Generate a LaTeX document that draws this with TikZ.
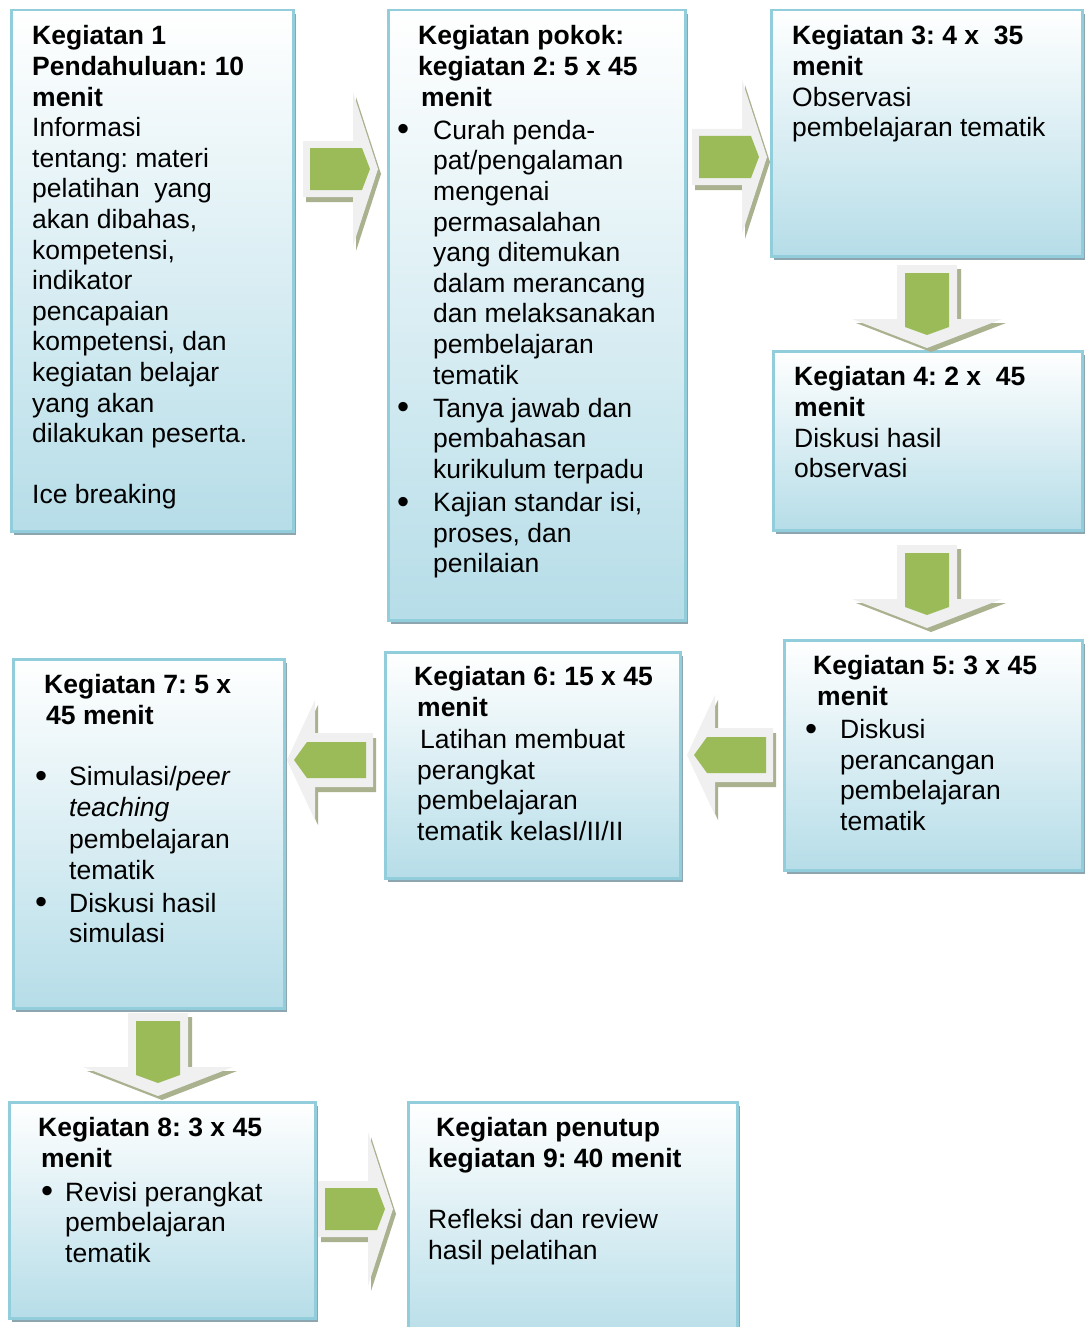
\documentclass[tikz,border=0pt]{standalone}
\usepackage{fontspec}
\setmainfont{Liberation Sans}
\frenchspacing
\definecolor{boxline}{HTML}{92CDDC}
\definecolor{boxbot}{HTML}{B6DDE8}
\definecolor{boxshadow}{HTML}{8CA5AE}
\definecolor{arrgrey}{HTML}{F0F0F0}
\definecolor{arrshadow}{HTML}{A9B18F}
\definecolor{arrgreen}{HTML}{9BBB59}
\tikzset{
  flowbox/.style={draw=boxline, line width=2.5pt, top color=white, bottom color=boxbot, inner sep=0pt, anchor=north west},
  boxtext/.style={anchor=north west, inner sep=0pt, align=left, font=\fontsize{26.5}{30.6}\selectfont\frenchspacing, text=black},
  arrbody/.style={fill=arrgrey},
  arrshade/.style={fill=arrshadow},
  arrcore/.style={fill=arrgreen},
}
\newcommand\mkbox[5]{%
  \fill[boxshadow] ({#2+4},{#3+5}) rectangle ({#4+4},{#5+5});
  \node[flowbox, minimum width={(#4-#2)*1pt}, minimum height={(#5-#3)*1pt}] (#1) at (#2,#3) {};
}
\newcommand\rarrow[3]{%
  \coordinate (#1) at (#2,#3);
  \begin{scope}[shift={(#1)}]
    \path[arrshade, shift={(3,5)}] (-37,-28)--(13,-28)--(13,-77)--(38,0)--(13,77)--(13,28)--(-37,28)--cycle;
    \path[arrbody] (-37,-28)--(13,-28)--(13,-77)--(38,0)--(13,77)--(13,28)--(-37,28)--cycle;
    \path[arrcore] (-30,-21)--(22,-21)--(30,0)--(22,21)--(-30,21)--cycle;
  \end{scope}}
\newcommand\larrow[3]{%
  \coordinate (#1) at (#2,#3);
  \begin{scope}[shift={(#1)}]
    \path[arrshade, shift={(3,5)}] (-43,0)--(-15,-60)--(-15,-27)--(43,-27)--(43,27)--(-15,27)--(-15,60)--cycle;
    \path[arrbody] (-43,0)--(-15,-60)--(-15,-27)--(43,-27)--(43,27)--(-15,27)--(-15,60)--cycle;
    \path[arrcore] (-36,0)--(-23,-18)--(36,-18)--(36,18)--(-23,18)--cycle;
  \end{scope}}
\newcommand\darrow[3]{%
  \coordinate (#1) at (#2,#3);
  \begin{scope}[shift={(#1)}]
    \path[arrshade, shift={(4,4)}] (-30,0)--(30,0)--(30,54)--(75,54)--(0,83)--(-75,54)--(-30,54)--cycle;
    \path[arrbody] (-30,0)--(30,0)--(30,54)--(75,54)--(0,83)--(-75,54)--(-30,54)--cycle;
    \path[arrcore] (-22,8)--(22,8)--(22,62)--(0,70)--(-22,62)--cycle;
  \end{scope}}
\newcommand\bul[2]{\makebox[#2pt][l]{\hspace*{#1pt}\raisebox{-1.6pt}{\scalebox{1.3}{•}}}}
\begin{document}
\begin{tikzpicture}[x=1pt,y=-1pt]
\useasboundingbox (0,0) rectangle (1084,1327);
\fill[white] (0,0) rectangle (1084,1327);

% boxes
\mkbox{b1}{10}{9}{292}{530}
\mkbox{b2}{387}{9}{684}{619}
\mkbox{b3}{770}{9}{1081}{255}
\mkbox{b4}{772}{350}{1081}{529}
\mkbox{b5}{783}{639}{1081}{869}
\mkbox{b6}{384}{651}{679}{877}
\mkbox{b7}{12}{658}{283}{1007}
\mkbox{b8}{8}{1101}{314}{1317}
\mkbox{b9}{407}{1101}{736}{1345}

% texts
\node[boxtext] (t1) at (32,25.5) {%
\textbf{Kegiatan 1}\\
\textbf{Pendahuluan: 10}\\
\textbf{menit}\\
Informasi\\
tentang: materi\\
pelatihan\ \ yang\\
akan dibahas,\\
kompetensi,\\
indikator\\
pencapaian\\
kompetensi, dan\\
kegiatan belajar\\
yang akan\\
dilakukan peserta.\\[30.6pt]
Ice breaking};

\node[boxtext] (t2) at (395,25.5) {%
\hspace*{23pt}\textbf{Kegiatan pokok:}\\
\hspace*{23pt}\textbf{kegiatan 2: 5 x 45}\\
\hspace*{26pt}\textbf{menit}\\[2.5pt]
\bul{2}{38}Curah penda-\\
\hspace*{38pt}pat/pengalaman\\
\hspace*{38pt}mengenai\\
\hspace*{38pt}permasalahan\\
\hspace*{38pt}yang ditemukan\\
\hspace*{38pt}dalam merancang\\
\hspace*{38pt}dan melaksanakan\\
\hspace*{38pt}pembelajaran\\
\hspace*{38pt}tematik\\[2.5pt]
\bul{2}{38}Tanya jawab dan\\
\hspace*{38pt}pembahasan\\
\hspace*{38pt}kurikulum terpadu\\[2.5pt]
\bul{2}{38}Kajian standar isi,\\
\hspace*{38pt}proses, dan\\
\hspace*{38pt}penilaian};

\node[boxtext] (t3) at (792,25.5) {%
\textbf{Kegiatan 3: 4 x\ \ 35}\\
\textbf{menit}\\
Observasi\\
pembelajaran tematik};

\node[boxtext] (t4) at (794,366.5) {%
\textbf{Kegiatan 4: 2 x\ \ 45}\\
\textbf{menit}\\
Diskusi hasil\\
observasi};

\node[boxtext] (t5) at (804,655.5) {%
\hspace*{9pt}\textbf{Kegiatan 5: 3 x 45}\\
\hspace*{13pt}\textbf{menit}\\[2.5pt]
\bul{1}{36}Diskusi\\
\hspace*{36pt}perancangan\\
\hspace*{36pt}pembelajaran\\
\hspace*{36pt}tematik};

\node[boxtext] (t6) at (414,666.5) {%
\textbf{Kegiatan 6: 15 x 45}\\
\hspace*{3pt}\textbf{menit}\\[1.5pt]
\hspace*{6pt}Latihan membuat\\
\hspace*{3pt}perangkat\\
\hspace*{3pt}pembelajaran\\
\hspace*{3pt}tematik kelasI/II/II};

\node[boxtext] (t7) at (34,674.5) {%
\hspace*{10pt}\textbf{Kegiatan 7: 5 x}\\
\hspace*{12pt}\textbf{45 menit}\\[30.6pt]
\bul{1}{35}Simulasi/\textit{peer}\\
\hspace*{35pt}\textit{teaching}\\[1.5pt]
\hspace*{35pt}pembelajaran\\
\hspace*{35pt}tematik\\[2.5pt]
\bul{1}{35}Diskusi hasil\\
\hspace*{35pt}simulasi};

\node[boxtext] (t8) at (38,1117.5) {%
\textbf{Kegiatan 8: 3 x 45}\\
\hspace*{3pt}\textbf{menit}\\[3pt]
\bul{3}{27}Revisi perangkat\\
\hspace*{27pt}pembelajaran\\
\hspace*{27pt}tematik};

\node[boxtext] (t9) at (428,1117.5) {%
\hspace*{8pt}\textbf{Kegiatan penutup}\\
\textbf{kegiatan 9: 40 menit}\\[30.6pt]
Refleksi dan review\\
hasil pelatihan};

% block arrows
\rarrow{a12}{340}{169}
\rarrow{a23}{729}{157}
\darrow{a34}{927}{265}
\darrow{a45}{927}{545}
\larrow{a56}{730}{755}
\larrow{a67}{330}{760}
\darrow{a78}{158}{1013}
\rarrow{a89}{355}{1209}
\end{tikzpicture}
\end{document}
